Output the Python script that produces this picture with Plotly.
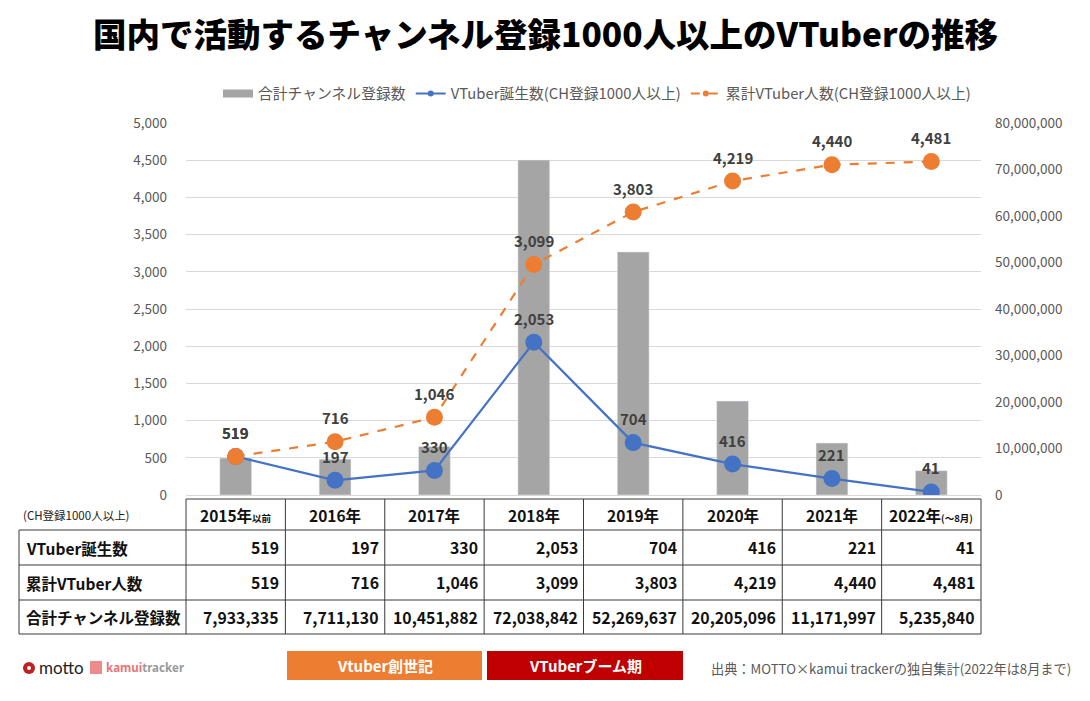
import plotly.graph_objects as go

# ---------------- data ----------------
categories = ["2015年以前", "2016年", "2017年", "2018年", "2019年", "2020年", "2021年", "2022年(〜8月)"]
header_main = ["2015年", "2016年", "2017年", "2018年", "2019年", "2020年", "2021年", "2022年"]
header_suffix = ["以前", "", "", "", "", "", "", "(～8月)"]
births = [519, 197, 330, 2053, 704, 416, 221, 41]
cumulative = [519, 716, 1046, 3099, 3803, 4219, 4440, 4481]
subscribers = [7933335, 7711130, 10451882, 72038842, 52269637, 20205096, 11171997, 5235840]

name_subs = "合計チャンネル登録数"
name_births = "VTuber誕生数(CH登録1000人以上)"
name_cum = "累計VTuber人数(CH登録1000人以上)"
row_labels = ["VTuber誕生数", "累計VTuber人数", "合計チャンネル登録数"]
title_text = "国内で活動するチャンネル登録1000人以上のVTuberの推移"
source_text = "出典：MOTTO×kamui trackerの独自集計(2022年は8月まで)"

# ---------------- geometry helpers ----------------
W, H = 1090, 701
def px(x):
    return x / W
def py(y):
    return 1 - y / H

FONT = "Noto Sans CJK JP"
GRAY_TXT = "#595959"
LABEL_TXT = "#404040"
BLUE = "#4472c4"
ORANGE = "#ed7d31"
BAR = "#a5a5a5"

plot_left, plot_right = 186, 981
plot_top, plot_bottom = 123, 495

fig = go.Figure()

fig.add_trace(go.Bar(
    x=categories, y=subscribers, name=name_subs, marker_color=BAR,
    width=0.32, yaxis="y", hoverinfo="skip", showlegend=False))
fig.add_trace(go.Scatter(
    x=categories, y=births, name=name_births, mode="lines+markers",
    line=dict(color=BLUE, width=2.2), marker=dict(size=17, color=BLUE),
    yaxis="y2", showlegend=False))
fig.add_trace(go.Scatter(
    x=categories, y=cumulative, name=name_cum, mode="lines+markers",
    line=dict(color=ORANGE, width=2.2, dash="dash"), marker=dict(size=17, color=ORANGE),
    yaxis="y2", showlegend=False))

# legend-only entries (smaller symbols, like the reference legend)
fig.add_trace(go.Scatter(x=[None], y=[None], name=name_subs, mode="lines",
                         line=dict(color=BAR, width=8), yaxis="y2"))
fig.add_trace(go.Scatter(x=[None], y=[None], name=name_births, mode="lines+markers",
                         line=dict(color=BLUE, width=2), marker=dict(size=6, color=BLUE), yaxis="y2"))
fig.add_trace(go.Scatter(x=[None], y=[None], name=name_cum, mode="lines+markers",
                         line=dict(color=ORANGE, width=2, dash="dash"),
                         marker=dict(size=6, color=ORANGE), yaxis="y2"))

annotations = []
def note(x, y, text, size, color, xanchor="center", weight=400, family=FONT):
    annotations.append(dict(x=px(x), y=py(y), xref="paper", yref="paper", text=text,
                            showarrow=False, xanchor=xanchor, yanchor="middle",
                            font=dict(family=family, size=size, color=color, weight=weight)))

# data labels
for series in (births, cumulative):
    for c, v in zip(categories, series):
        annotations.append(dict(
            x=c, y=v, xref="x", yref="y2", text=f"{v:,}", showarrow=False,
            xanchor="center", yanchor="middle",
            yshift=24, font=dict(family=FONT, size=15, color=LABEL_TXT, weight=700)))

# ---------------- table ----------------
shapes = []
ncol = len(categories)
colw = (plot_right - plot_left) / ncol
col_edges = [plot_left + i * colw for i in range(ncol + 1)]
row_edges = [499, 530, 565, 600, 634]
table_left = 19
LINE = dict(color="#3a3a3a", width=1)

def hline(x0, x1, y):
    shapes.append(dict(type="line", xref="paper", yref="paper",
                       x0=px(x0), x1=px(x1), y0=py(y), y1=py(y), line=LINE))
def vline(x, y0, y1):
    shapes.append(dict(type="line", xref="paper", yref="paper",
                       x0=px(x), x1=px(x), y0=py(y0), y1=py(y1), line=LINE))

hline(plot_left, plot_right, row_edges[0])
for y in row_edges[1:]:
    hline(table_left, plot_right, y)
vline(table_left, row_edges[1], row_edges[-1])
for x in col_edges:
    vline(x, row_edges[0], row_edges[-1])

hdr_y = (row_edges[0] + row_edges[1]) / 2
note(21, hdr_y, "(CH登録1000人以上)", 11.5, "#222222", xanchor="left")
for i in range(ncol):
    suffix = header_suffix[i]
    txt = header_main[i]
    if suffix:
        txt += f"<span style='font-size:9.5px'>{suffix}</span>"
    note((col_edges[i] + col_edges[i + 1]) / 2, hdr_y, txt, 15.5, "#111111", weight=700)

rows = [births, cumulative, subscribers]
for r, (label, vals) in enumerate(zip(row_labels, rows)):
    yc = (row_edges[r + 1] + row_edges[r + 2]) / 2
    note(24, yc, label, 15.5, "#111111", xanchor="left", weight=700)
    for i, v in enumerate(vals):
        note(col_edges[i + 1] - 4, yc, f"{v:,}", 15.8, "#111111", xanchor="right", weight=700)

# ---------------- footer ----------------
boxes = [(287, 482, ORANGE, "Vtuber創世記"), (487, 683, "#c00000", "VTuberブーム期")]
for x0, x1, col, txt in boxes:
    shapes.append(dict(type="rect", xref="paper", yref="paper", x0=px(x0), x1=px(x1),
                       y0=py(680), y1=py(651), fillcolor=col, line=dict(width=0)))
    note((x0 + x1) / 2, 665, txt, 15, "white", weight=700)

note(709, 668, source_text, 13.2, GRAY_TXT, xanchor="left")

# motto logo
shapes.append(dict(type="circle", xref="paper", yref="paper", x0=px(23), x1=px(35),
                   y0=py(674), y1=py(662), fillcolor="#c0201f", line=dict(width=0)))
shapes.append(dict(type="circle", xref="paper", yref="paper", x0=px(27), x1=px(31),
                   y0=py(670), y1=py(666), fillcolor="white", line=dict(width=0)))
note(37, 667, "motto", 17, "#222222", xanchor="left", family="Lato")
# kamuitracker logo
shapes.append(dict(type="rect", xref="paper", yref="paper", x0=px(90), x1=px(102),
                   y0=py(674), y1=py(661), fillcolor="#ef8a8a", line=dict(width=0)))
note(104, 667, "<span style='color:#e8747b'>kamui</span><span style='color:#9a9a9a'>tracker</span>",
     11.5, "#9a9a9a", xanchor="left", weight=700, family="Noto Sans")

# title
note(545, 32, title_text, 33.5, "black", weight=900)

fig.update_layout(
    width=W, height=H, margin=dict(l=0, r=0, t=0, b=0, pad=0, autoexpand=False),
    paper_bgcolor="white", plot_bgcolor="white",
    showlegend=True,
    legend=dict(orientation="h", x=px(597), y=py(94), xanchor="center", yanchor="middle",
                font=dict(family=FONT, size=14.8, color=GRAY_TXT), itemwidth=30,
                bgcolor="rgba(0,0,0,0)"),
    xaxis=dict(domain=[px(plot_left), px(plot_right)], range=[-0.5, ncol - 0.5],
               showticklabels=False, showgrid=False, zeroline=False, showline=False,
               automargin=False),
    yaxis=dict(domain=[py(plot_bottom), py(plot_top)], side="right", range=[0, 80e6],
               dtick=10e6, tickformat=",d", showgrid=False, zeroline=False, ticks="",
               ticklabelstandoff=13, automargin=False,
               tickfont=dict(family=FONT, size=13.5, color=GRAY_TXT)),
    yaxis2=dict(overlaying="y", side="left", range=[0, 5000], dtick=500, tickformat=",d",
                showgrid=True, gridcolor="#d9d9d9", gridwidth=1, zeroline=True,
                zerolinecolor="#d9d9d9", zerolinewidth=1, ticks="", ticklabelstandoff=18,
                automargin=False,
                tickfont=dict(family=FONT, size=13.5, color=GRAY_TXT)),
    annotations=annotations, shapes=shapes,
)

fig.write_html("out.html", config={"displayModeBar": False},
               post_script="document.body.style.margin='0';")
